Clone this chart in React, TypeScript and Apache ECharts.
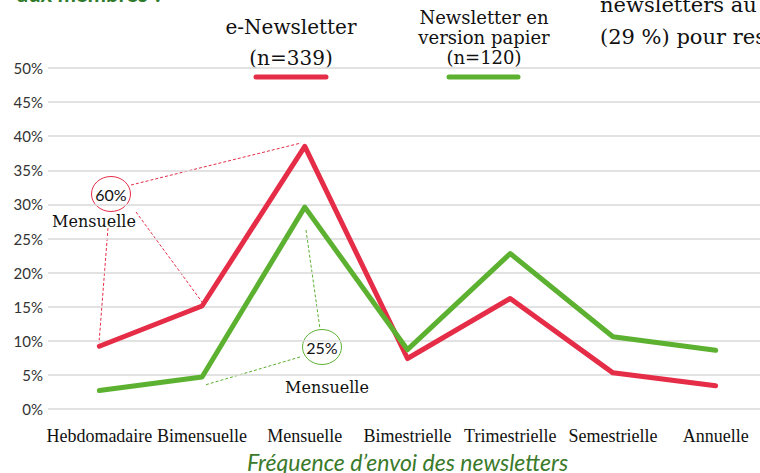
import React, { useEffect, useRef } from "react";
import * as echarts from "echarts";

const categories = ["Hebdomadaire", "Bimensuelle", "Mensuelle", "Bimestrielle", "Trimestrielle", "Semestrielle", "Annuelle"];
const eNewsletter = [9.2, 15.1, 38.5, 7.4, 16.2, 5.3, 3.4];
const paperNewsletter = [2.7, 4.7, 29.6, 8.7, 22.8, 10.6, 8.6];
const yTicks = { min: 0, max: 50, interval: 5 };
const axisTitle = "Fréquence d’envoi des newsletters";

const RED = "#e52d47";
const GREEN = "#5cb130";
const SERIF = "'DejaVu Serif', serif";

export default function App() {
  const ref = useRef<HTMLDivElement>(null);
  useEffect(() => {
    if (!ref.current) return;
    const chart = echarts.init(ref.current, null, { renderer: "svg" });
    const dashed = (color: string, pts: number[]) => ({
      type: "line",
      shape: { x1: pts[0], y1: pts[1], x2: pts[2], y2: pts[3] },
      style: { stroke: color, lineWidth: 1, lineDash: [3, 2] },
      silent: true,
    });
    chart.setOption({
      animation: false,
      grid: { left: 48, top: 68, width: 719, height: 341, outerBoundsMode: "none", containLabel: false },
      xAxis: {
        type: "category",
        data: categories,
        boundaryGap: true,
        axisLine: { show: false },
        axisTick: { show: false },
        axisLabel: {
          interval: 0,
          margin: 18,
          fontFamily: "'Liberation Serif', serif",
          fontSize: 18,
          color: "#111",
        },
        name: axisTitle,
        nameLocation: "middle",
        nameGap: 41,
        nameTextStyle: { fontFamily: "Lato", fontStyle: "italic", fontSize: 23, color: "#3b7a2b" },
      },
      yAxis: {
        type: "value",
        min: yTicks.min,
        max: yTicks.max,
        interval: yTicks.interval,
        axisLine: { show: false },
        axisTick: { show: false },
        axisLabel: { formatter: "{value}%", fontFamily: "Lato", fontSize: 15, color: "#333", margin: 5 },
        splitLine: { lineStyle: { color: "#d9d9d9", width: 1.5 } },
      },
      series: [
        {
          name: "e-Newsletter",
          type: "line",
          data: eNewsletter,
          symbol: "none",
          lineStyle: { color: RED, width: 5, join: "round", cap: "round" },
          z: 3,
        },
        {
          name: "Newsletter en version papier",
          type: "line",
          data: paperNewsletter,
          symbol: "none",
          lineStyle: { color: GREEN, width: 5, join: "round", cap: "round" },
          z: 4,
        },
      ],
      graphic: [
        // cropped headings
        { type: "text", left: 17, top: -18, style: { text: "aux membres ?", font: "bold 22px Lato", fill: "#2f7a2a" } },
        { type: "text", x: 600, y: 21, style: { text: "newsletters au\n(29 %) pour res", font: "21px " + SERIF, lineHeight: 32, fill: "#111", verticalAlign: "middle" } },
        // legend red
        { type: "text", x: 291, y: 42, style: { text: "e-Newsletter\n(n=339)", font: "20px " + SERIF, lineHeight: 31, fill: "#111", align: "center", verticalAlign: "middle" } },
        { type: "line", shape: { x1: 256, y1: 77, x2: 326, y2: 77 }, style: { stroke: RED, lineWidth: 5, lineCap: "round" } },
        // legend green
        { type: "text", x: 484, y: 37, style: { text: "Newsletter en\nversion papier\n(n=120)", font: "18px " + SERIF, lineHeight: 20, fill: "#111", align: "center", verticalAlign: "middle" } },
        { type: "line", shape: { x1: 449, y1: 77, x2: 518, y2: 77 }, style: { stroke: GREEN, lineWidth: 5, lineCap: "round" } },
        // red annotation
        dashed(RED, [131, 185, 301, 143]),
        dashed(RED, [136, 212, 202, 302]),
        dashed(RED, [108, 228, 99, 343]),
        { type: "ellipse", shape: { cx: 111, cy: 194, rx: 19.5, ry: 17.5 }, style: { fill: "#fff", stroke: RED, lineWidth: 1 } },
        { type: "text", x: 111, y: 194, style: { text: "60%", font: "16px Lato", fill: "#111", align: "center", verticalAlign: "middle" } },
        { type: "text", x: 94, y: 221, style: { text: "Mensuelle", font: "16px " + SERIF, fill: "#111", align: "center", verticalAlign: "middle" } },
        // green annotation
        dashed(GREEN, [306, 230, 320, 329]),
        dashed(GREEN, [300, 357, 205, 385]),
        { type: "ellipse", shape: { cx: 322, cy: 347, rx: 19.5, ry: 17.5 }, style: { fill: "#fff", stroke: GREEN, lineWidth: 1 } },
        { type: "text", x: 322, y: 347, style: { text: "25%", font: "16px Lato", fill: "#111", align: "center", verticalAlign: "middle" } },
        { type: "text", x: 327, y: 387, style: { text: "Mensuelle", font: "16px " + SERIF, fill: "#111", align: "center", verticalAlign: "middle" } },
      ],
    });
    return () => chart.dispose();
  }, []);
  return <div ref={ref} style={{ width: 760, height: 473, position: "fixed", left: 0, top: 0, background: "#fff" }} />;
}
